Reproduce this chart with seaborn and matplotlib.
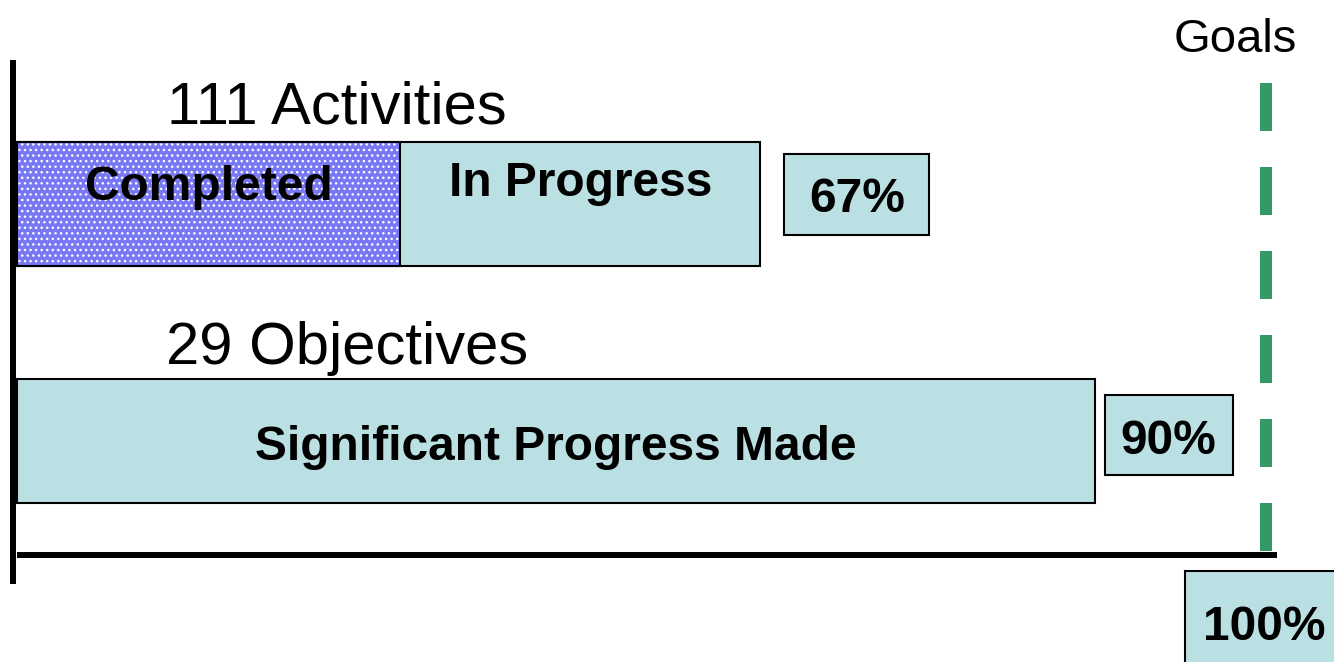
import matplotlib
matplotlib.use("Agg")
import matplotlib.pyplot as plt
import pandas as pd
import seaborn as sns
from matplotlib.patches import Rectangle

# data (bar lengths in % of the goal)
categories = ["Activities", "Objectives"]
category_labels = ["111 Activities", "29 Objectives"]
total_progress = [59.5, 86.3]
completed_progress = [30.7, 0.0]
percent_labels = ["67%", "90%"]
segment_labels = [["Completed", "In Progress"], ["Significant Progress Made"]]
goal_value = 100
goal_label = "100%"
goal_title = "Goals"

LIGHT = "#BBE0E3"
BLUE = "#7878F5"
GREEN = "#339966"

sns.set_style("white")
plt.rcParams["font.family"] = ["Liberation Sans", "DejaVu Sans"]
plt.rcParams["text.color"] = "black"

# pixel layout helpers (figure is 1334x662, axes fill it)
X0_PX, PX_PER_PCT = 17, 12.49
Y0_PX, PX_PER_CAT = 204, 237


def dx(px):
    return (px - X0_PX) / PX_PER_PCT


def dy(py):
    return (py - Y0_PX) / PX_PER_CAT


df = pd.DataFrame({"category": categories, "total": total_progress,
                   "completed": completed_progress})
done = df[df["completed"] > 0]

fig = plt.figure(figsize=(13.34, 6.62), dpi=100)
ax = fig.add_axes([0, 0, 1, 1])

# full bars
sns.barplot(data=df, x="total", y="category", order=categories, orient="h",
            color=LIGHT, saturation=1, edgecolor="black", linewidth=1.5,
            width=0.523, errorbar=None, ax=ax)
# completed part, dotted blue
sns.barplot(data=done, x="completed", y="category", order=categories, orient="h",
            color=BLUE, saturation=1, edgecolor="white", linewidth=0, hatch="...",
            width=0.523, errorbar=None, ax=ax)
sns.barplot(data=done, x="completed", y="category", order=categories, orient="h",
            fill=False, edgecolor="black", linewidth=1.5,
            width=0.523, errorbar=None, ax=ax)

# axis lines
ax.plot([dx(13.5), dx(13.5)], [dy(60), dy(584)], color="black", lw=4.3,
        solid_capstyle="butt")
ax.plot([dx(17), goal_value + 0.9], [dy(555), dy(555)], color="black", lw=4.3,
        solid_capstyle="butt")

# goal line
ax.plot([goal_value, goal_value], [dy(83), dy(551)], color=GREEN, lw=8.64,
        linestyle=(0, (4, 3)), dash_capstyle="butt")
ax.text(dx(1235), dy(52), goal_title, fontsize=34, ha="center", va="baseline")

# category titles
ax.text(dx(167), dy(123), category_labels[0], fontsize=43, ha="left", va="baseline")
ax.text(dx(166), dy(364), category_labels[1], fontsize=43, ha="left", va="baseline")

# segment labels
bold = dict(fontsize=34.5, fontweight="bold", ha="center", va="baseline")
ax.text(completed_progress[0] / 2, dy(200), segment_labels[0][0], **bold)
ax.text((completed_progress[0] + total_progress[0]) / 2, dy(196),
        segment_labels[0][1], **bold)
ax.text(total_progress[1] / 2, dy(460), segment_labels[1][0], **bold)


def pct_box(x0, y0, x1, y1, text, cx, base):
    ax.add_patch(Rectangle((dx(x0), dy(y0)), dx(x1) - dx(x0), dy(y1) - dy(y0),
                           facecolor=LIGHT, edgecolor="black", lw=1.5, zorder=3))
    ax.text(dx(cx), dy(base), text, zorder=4, **bold)


pct_box(784, 154, 929, 235, percent_labels[0], 857, 212)
pct_box(1105, 395, 1233, 475, percent_labels[1], 1168, 454)
pct_box(1185, 571, 1345, 675, goal_label, 1264, 640)

ax.set_xlim(dx(0), dx(1334))
ax.set_ylim(dy(662), dy(0))
ax.set_axis_off()

fig.savefig("out.png", dpi=100, facecolor="white")
